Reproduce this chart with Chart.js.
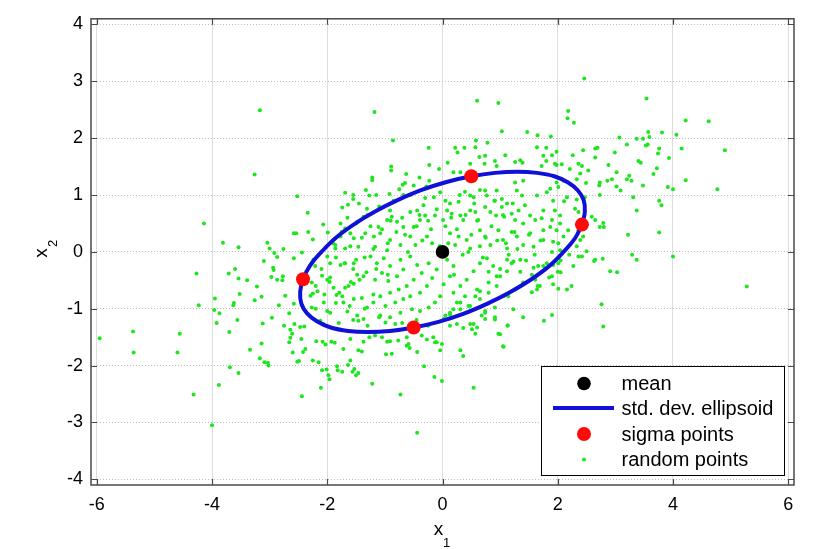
<!DOCTYPE html>
<html>
<head>
<meta charset="utf-8">
<script src="https://cdn.jsdelivr.net/npm/chart.js"></script>
<style>
  html, body { margin: 0; padding: 0; background: #fff; }
  canvas { display: block; }
</style>
</head>
<body>
<canvas id="chart" width="827" height="549"></canvas>
<script>
// Sigma point plot

const xTicks = [-6, -4, -2, 0, 2, 4, 6];
const yTicks = [-4, -3, -2, -1, 0, 1, 2, 3, 4];

const meanPoint = [[0, 0]];
const sigmaPoints = [[0.50, 1.33], [2.42, 0.48], [-2.42, -0.48], [-0.50, -1.33]];

// outline of the ellipse, traced every ~10 degrees
const ellipsePoints = [
    [2.42, 0.48], [2.47, 0.70], [2.45, 0.91], [2.35, 1.08], [2.18, 1.22], [1.94, 1.33],
    [1.64, 1.39], [1.30, 1.41], [0.91, 1.39], [0.50, 1.33], [0.07, 1.23], [-0.36, 1.09],
    [-0.78, 0.91], [-1.17, 0.71], [-1.53, 0.49], [-1.85, 0.25], [-2.10, 0.00], [-2.30, -0.24],
    [-2.42, -0.48], [-2.47, -0.70], [-2.45, -0.91], [-2.35, -1.08], [-2.18, -1.22], [-1.94, -1.33],
    [-1.64, -1.39], [-1.30, -1.41], [-0.91, -1.39], [-0.50, -1.33], [-0.07, -1.23], [0.36, -1.09],
    [0.78, -0.91], [1.17, -0.71], [1.53, -0.49], [1.85, -0.25], [2.10, 0.00], [2.30, 0.24],
    [2.42, 0.48]
];

const randomPoints = [
    [-3.17,2.49],[-1.18,2.46],[-0.86,1.96],[-3.26,1.36],[-2.52,0.98],[-4.14,0.50],[-2.34,0.69],[-0.89,1.50],[-0.89,1.43],[-1.22,1.31],
    [-1.22,1.26],[-1.69,1.04],[-1.55,1.00],[-1.55,0.93],[-1.33,1.09],[-1.27,0.99],[-1.74,0.78],[-1.64,0.83],[-2.07,0.48],[-2.58,0.33],
    [-2.54,0.33],[-2.33,0.35],[-2.25,0.22],[-1.99,0.34],[-3.81,0.16],[-3.54,0.08],[-3.04,0.16],[-3.00,0.06],[-2.92,-0.02],[-2.87,-0.09],
    [-2.76,0.05],[-3.10,-0.16],[-2.58,-0.11],[-2.44,-0.01],[-2.24,-0.14],[-4.27,-0.38],[-3.71,-0.38],[-3.60,-0.30],[-3.54,-0.47],[-3.39,-0.50],
    [-2.97,-0.44],[-2.87,-0.49],[-2.78,-0.50],[-1.86,0.06],[-3.22,-0.61],[-3.14,-0.79],[-3.26,-0.85],[-3.52,-0.74],[-3.62,-0.90],[-3.63,-0.94],
    [-3.95,-0.82],[-4.23,-0.94],[-3.96,-1.02],[-3.87,-1.08],[-3.92,-1.25],[-3.56,-1.20],[-3.70,-1.41],[-3.12,-1.26],[-2.96,-1.16],[-2.84,-0.94],
    [-2.73,-0.77],[-2.77,-0.43],[-2.66,-1.08],[-2.44,-0.94],[-2.58,-0.91],[-2.75,-1.30],[-2.57,-1.27],[-2.47,-1.32],[-2.40,-1.31],[-2.66,-1.59],
    [-2.64,-1.51],[-3.14,-1.61],[-3.34,-1.72],[-3.17,-1.87],[-3.09,-1.94],[-3.03,-1.95],[-3.02,-2.00],[-3.69,-2.03],[-3.54,-2.13],[-3.88,-2.34],
    [-4.32,-2.51],[-4.00,-3.05],[-5.95,-1.52],[-5.37,-1.40],[-5.36,-1.77],[-4.56,-1.44],[-4.60,-1.77],[-2.60,-1.77],[-2.45,-1.53],[-2.38,-1.71],
    [-2.42,-1.76],[-2.52,-1.93],[-2.49,-1.92],[-2.44,-2.54],[-2.19,-1.57],[-2.08,-1.58],[-2.03,-1.63],[-1.93,-1.58],[-1.87,-1.60],[-2.25,-1.91],
    [-2.15,-1.94],[-2.09,-2.08],[-2.01,-2.07],[-1.98,-2.17],[-1.96,-2.24],[-2.11,-2.39],[-1.83,-2.01],[-1.72,-1.71],[-1.60,-1.91],[-1.64,-1.99],
    [-1.46,-1.73],[-1.40,-1.75],[-1.53,-2.06],[-1.50,-2.17],[-1.46,-2.13],[-1.56,-2.11],[-1.82,-2.08],[-1.74,-2.11],[-1.22,-2.32],[-0.98,-1.80],
    [-0.88,-1.79],[-0.73,-2.51],[-0.57,-1.69],[-0.44,-1.76],[-0.44,-3.18],[-1.60,-1.53],[-1.37,-1.58],[-1.27,-1.50],[-1.17,-1.47],[-0.96,-1.58],
    [-0.91,-1.57],[-0.77,-1.56],[-0.62,-1.65],[-2.94,-0.28],[-2.93,-0.32],[-2.64,-1.37],[-2.61,-1.44],[-2.29,-0.77],[-2.25,-0.73],[-2.17,-0.69],
    [-2.09,-0.42],[-2.00,-0.49],[-1.96,-0.53],[-1.89,-0.63],[-1.84,-0.76],[-1.79,-0.72],[-1.74,-0.78],[-1.69,-0.63],[-1.63,-0.60],[-1.59,-0.53],
    [-1.54,-0.56],[-1.48,-0.40],[-1.44,-0.49],[-1.37,-0.43],[-1.32,-0.36],[-1.77,-0.23],[-1.69,-0.20],[-1.54,-0.20],[-1.50,-0.14],[-2.06,-0.89],
    [-2.00,-1.04],[-1.95,-1.07],[-1.72,-0.89],[-1.61,-0.95],[-1.54,-0.83],[-1.48,-1.12],[-1.40,-0.81],[-1.31,-0.98],[-1.37,-1.18],[-1.46,-1.21],
    [-2.12,-1.21],[-2.07,-1.27],[-2.27,-0.98],[-1.95,-0.20],[-2.00,-0.08],[-2.21,-0.25],[-2.27,-0.54],
    [0.60,2.66],[0.97,2.62],[1.03,2.12],[-0.24,1.83],[0.22,1.83],[0.26,1.75],[0.38,1.83],[0.58,1.96],[0.57,1.84],[0.78,1.92],
    [0.64,1.67],[0.74,1.69],[0.91,1.60],[0.94,1.51],[1.09,1.70],[0.73,1.55],[0.48,1.55],[0.31,1.40],[0.19,1.40],[0.09,1.57],
    [-0.06,1.46],[-0.23,1.53],[-0.63,1.37],[-0.40,1.31],[-0.50,1.17],[-0.65,1.21],[-0.69,1.18],[-0.23,1.25],[-0.28,1.15],[0.39,1.06],
    [0.48,0.99],[0.54,0.96],[0.65,1.09],[0.74,1.08],[0.77,0.99],[0.94,1.08],[0.91,0.90],[1.03,0.93],[1.12,0.85],[0.05,0.90],
    [0.13,0.85],[0.28,0.88],[-0.15,0.96],[-0.04,1.05],[-0.33,0.82],[-0.56,0.70],[-0.44,0.73],[-0.91,0.73],[-0.88,0.62],[-0.96,0.56],
    [-0.79,0.53],[-0.68,0.44],[-1.11,0.44],[-1.08,0.33],[-1.19,0.27],[-0.50,0.44],[-0.39,0.56],[-0.30,0.64],[-0.13,0.64],[0.01,0.56],
    [0.08,0.73],[0.16,0.67],[0.31,0.64],[0.36,0.56],[0.48,0.73],[0.57,0.70],[0.62,0.56],[0.74,0.79],[0.83,0.70],[0.93,0.64],
    [1.03,0.79],[1.07,0.62],[-0.91,0.21],[-0.73,0.12],[-0.56,0.27],[-0.47,0.12],[-0.27,0.27],[-0.18,0.15],[0.13,0.33],[0.28,0.27],
    [0.22,0.12],[0.42,0.21],[0.48,0.06],[0.65,0.38],[0.74,0.27],[0.83,0.12],[0.97,0.38],[1.05,0.21],[1.12,0.06],[-0.96,0.03],
    [-1.17,0.09],[-0.92,1.02],[-0.68,1.00],
    [2.46,3.05],[3.54,2.70],[2.18,2.48],[2.17,2.35],[2.28,2.27],[1.47,2.11],[1.65,2.05],[1.88,2.03],[3.07,2.01],[3.20,1.89],
    [3.37,1.99],[3.48,1.99],[3.56,1.89],[3.57,2.11],[1.64,1.84],[1.80,1.83],[1.98,1.76],[2.26,1.70],[2.44,1.79],[2.69,1.83],
    [2.99,1.75],[2.65,1.66],[1.26,1.58],[1.35,1.61],[1.39,1.57],[1.75,1.69],[1.90,1.70],[1.72,1.51],[1.98,1.53],[2.36,1.55],
    [2.42,1.51],[2.53,1.43],[2.21,1.46],[2.39,1.38],[2.88,1.53],[3.02,1.40],[2.86,1.25],[2.94,1.28],[3.20,1.28],[3.28,1.25],
    [3.24,1.34],[3.40,1.60],[3.44,1.57],[2.73,1.22],[2.49,1.21],[3.02,1.15],[3.09,1.08],[2.73,1.00],[3.31,0.96],[3.37,0.73],
    [3.48,1.17],[2.10,1.25],[2.01,1.14],[2.16,0.96],[2.11,0.89],[2.33,0.92],[2.30,0.76],[2.36,0.70],[2.59,0.62],[2.65,0.56],
    [2.79,0.51],[2.73,0.44],[2.80,0.44],[2.36,0.38],[2.44,0.27],[2.39,0.21],[3.22,0.30],[2.01,0.15],[2.04,0.03],[2.33,0.10],
    [1.26,1.22],[1.40,1.25],[1.29,1.08],[1.38,0.99],[1.22,0.85],[1.43,0.82],[1.32,0.73],[1.52,0.64],[1.26,0.56],[1.40,0.50],
    [1.61,0.56],[1.75,0.73],[1.72,0.59],[1.92,0.90],[1.95,0.73],[1.90,0.56],[2.04,0.64],[1.87,0.44],[1.75,0.38],[1.98,0.38],
    [1.52,0.33],[1.29,0.27],[1.40,0.12],[1.58,0.09],[1.75,0.21],[1.92,0.18],[2.10,0.27],[2.18,0.38],[2.04,0.50],[1.81,1.05],
    [1.64,0.99],[1.87,1.11],[1.98,1.22],[1.20,0.67],
    [4.22,2.31],[4.62,2.30],[3.59,2.02],[3.53,1.87],[3.81,2.10],[4.06,2.06],[3.76,1.82],[3.74,1.73],[4.15,1.82],[4.90,1.79],
    [3.93,1.65],[3.72,1.47],[3.66,1.37],[4.22,1.26],[3.91,1.14],[4.00,1.10],[4.77,1.10],[3.76,0.90],[3.80,0.82],[3.76,0.34],
    [4.00,-0.08],[5.28,-0.61],
    [2.07,1.54],[1.95,1.55],[1.80,1.60],[2.33,1.28],[2.72,1.17],[2.47,0.96],[2.65,1.82],[3.37,-0.14],[3.29,-0.05],[2.91,-0.34],
    [3.03,-0.36],[2.78,-0.12],[2.63,-0.16],[2.50,0.01],[2.42,-0.08],[2.27,-0.25],[2.05,-0.36],
    [2.76,-0.92],[2.79,-1.31],[2.24,-0.60],[2.16,-0.66],[2.01,-0.65],[1.90,-0.43],[1.92,-0.57],[1.76,-1.21],[1.90,-1.11],[1.64,-0.66],
    [1.69,-0.60],[1.55,-0.71],[1.61,-0.49],[1.40,-1.15],[1.23,-1.01],[1.13,-1.29],[1.00,-1.45],[1.05,-1.66],[0.91,-1.19],[0.54,-2.39],
    [0.60,-1.33],[0.68,-1.12],[0.74,-1.07],[0.48,-1.27],[0.51,-1.36],[0.31,-1.73],[0.36,-1.83],[-0.04,-1.73],[-0.01,-1.62],[-0.10,-1.59],
    [-0.14,-2.20],[-0.01,-2.27],[-0.32,-2.01],[0.05,-1.12],[0.13,-1.07],[0.19,-1.01],[0.31,-0.89],[0.45,-0.95],[0.57,-0.78],[0.65,-0.69],
    [0.80,-0.54],[0.94,-0.43],[1.12,-0.34],[1.14,-0.78],[1.26,-0.66],[1.40,-0.54],
    [-0.36,-1.47],[-0.27,-1.54],[-0.16,-1.50],[-0.13,-1.59],[-0.62,-1.50],[-0.59,-1.62],[-1.17,-1.41],[-1.05,-1.50],[0.13,-1.30],[0.25,-1.27],
    [0.36,-1.34],[0.54,-1.27],[0.57,-1.44],[0.97,-1.44],[1.06,-1.67],[1.13,-1.30],[0.74,-1.18],[0.91,-1.15],[-0.99,-1.24],[-0.82,-1.27],
    [-1.25,-0.08],[-1.14,-0.20],[-1.02,-0.11],[-0.91,-0.25],[-1.05,-0.37],[-1.17,-0.49],[-0.94,-0.51],[-0.79,-0.43],[-0.68,-0.31],[-0.73,-0.14],
    [-0.56,-0.08],[-0.44,-0.23],[-0.36,-0.37],[-0.50,-0.49],[-0.62,-0.60],[-0.76,-0.66],[-0.91,-0.72],[-1.08,-0.78],[-1.20,-0.89],[-0.99,-0.95],
    [-0.82,-0.89],[-0.68,-0.83],[-0.56,-0.78],[-0.39,-0.72],[-0.27,-0.60],[-0.18,-0.46],[-0.10,-0.31],[-0.24,-0.20],[0.08,-0.14],[0.19,-0.25],
    [0.13,-0.43],[0.02,-0.57],[-0.04,-0.78],[-0.13,-0.89],[-0.24,-0.98],[-0.39,-1.04],[-0.53,-1.01],[-0.73,-1.07],[-0.91,-1.15],[-1.08,-1.12],
    [0.19,-0.72],[0.31,-0.60],[0.42,-0.49],[0.54,-0.34],[0.65,-0.20],[0.77,-0.11],[0.88,-0.25],[1.00,-0.43],[1.12,-0.14],[0.94,-0.60],
    [0.80,-0.72],[0.65,-0.83],[0.48,-0.95],[0.31,-1.01],[0.13,-1.10],[0.02,-1.18],[0.25,-0.89],[0.60,-0.66],[0.39,-0.78],[0.74,-1.04],
    [0.91,-0.98],[1.06,-0.78],
    [-1.90,0.15],[-1.75,0.35],[-1.60,0.10],[-1.50,0.50],[-1.40,0.25],[-1.30,0.65],[-1.20,0.05],[-1.10,0.80],[-1.05,0.40],[-0.95,0.15],
    [-0.85,0.90],[-0.80,0.35],[-0.70,0.60],[-0.60,0.00],[-0.55,1.00],[-0.45,0.45],[-0.35,0.20],[-0.30,0.95],[-0.20,0.40],[-0.10,0.75],
    [-0.05,0.10],[-1.65,0.60],[-1.35,-0.10],[-1.85,-0.10],[-2.10,-0.30],[-1.95,-0.45],[-1.25,0.45],[-0.90,0.55],[-0.65,0.30],[-0.40,0.65],
    [-1.45,0.85],[-1.15,1.00],[-0.75,1.10],[-0.25,0.55],[-1.70,-0.20],[-1.55,-0.30],[-1.15,-0.30],[-0.95,-0.40],[-2.20,-0.60],[-2.05,-0.75],
    [-1.85,-0.90],[-1.65,-1.05],[-1.35,-1.00],[-1.20,-0.75],[-1.10,-1.15],[-1.30,-1.30],[-1.55,-1.20],[-1.80,-1.25],[-2.20,-1.00],[-0.70,-1.25],
    [-0.45,-1.20],[-0.25,-1.30],
    [0.10,0.15],[0.25,0.40],[0.35,-0.05],[0.50,0.30],[0.60,0.55],[0.70,-0.10],[0.85,0.45],[0.95,0.20],[1.05,0.65],[1.15,-0.05],
    [0.20,-0.40],[0.45,0.00],[0.75,0.25],[1.00,-0.30],[0.15,0.60],[0.55,0.85],[0.90,0.90],[1.20,0.35],[0.30,1.00],[0.05,0.45],
    [0.65,0.10],[0.40,0.65],[0.80,-0.35],[1.10,0.15],
    [1.30,0.05],[1.45,-0.15],[1.60,-0.05],[1.75,-0.25],[1.90,0.00],[2.05,-0.15],[1.35,-0.35],[1.55,-0.40],[1.70,0.20],[1.85,-0.45],
    [2.20,-0.05],[1.25,0.35],[1.50,0.30],[2.00,-0.35],[1.40,-0.55],[1.20,-0.20],[1.65,-0.60],
    [-1.31,0.76],[-1.37,0.62],[-1.48,0.53],[-1.77,0.50],[-1.69,0.41],[-1.60,0.33],[-1.54,0.24],[-1.77,0.27],[-1.86,0.12],[-1.69,0.06],
    [-1.46,0.09],[-1.34,0.33],
    [2.36,-0.08],[2.65,-0.14],[1.81,-0.20],[1.92,-0.23],[1.66,-0.25],[1.58,-0.28],[1.35,-0.14],[1.23,-0.17],[2.01,-0.20]
];

const legendLabels = ['mean', 'std. dev. ellipsoid', 'sigma points', 'random points'];

const FONT = '"Liberation Sans", Arial, Helvetica, sans-serif';
const toXY = pts => pts.map(p => ({ x: p[0], y: p[1] }));

// frame, inward ticks, axis titles and boxed legend
const decorPlugin = {
    id: 'decor',
    afterDraw(chart) {
        const ctx = chart.ctx;
        const a = chart.chartArea;
        const xs = chart.scales.x;
        const ys = chart.scales.y;
        ctx.save();

        ctx.strokeStyle = '#4a4a4a';
        ctx.lineWidth = 1.5;
        ctx.strokeRect(a.left, a.top, a.right - a.left, a.bottom - a.top);

        ctx.lineWidth = 1.2;
        ctx.beginPath();
        xTicks.forEach(v => {
            const px = Math.round(xs.getPixelForValue(v)) + 0.5;
            ctx.moveTo(px, a.bottom); ctx.lineTo(px, a.bottom - 6);
            ctx.moveTo(px, a.top); ctx.lineTo(px, a.top + 6);
        });
        yTicks.forEach(v => {
            const py = Math.round(ys.getPixelForValue(v)) + 0.5;
            ctx.moveTo(a.left, py); ctx.lineTo(a.left + 6, py);
            ctx.moveTo(a.right, py); ctx.lineTo(a.right - 6, py);
        });
        ctx.stroke();

        // axis titles with subscripts
        ctx.fillStyle = '#000';
        ctx.textAlign = 'center';
        ctx.textBaseline = 'alphabetic';
        ctx.font = '19px ' + FONT;
        ctx.fillText('x', 438.5, 535);
        ctx.font = '13px ' + FONT;
        ctx.fillText('1', 446.5, 547);

        ctx.save();
        ctx.translate(47, 253);
        ctx.rotate(-Math.PI / 2);
        ctx.font = '19px ' + FONT;
        ctx.fillText('x', 0, 0);
        ctx.font = '13px ' + FONT;
        ctx.fillText('2', 9.5, 10);
        ctx.restore();

        // legend box
        const bx = 541, by = 366, bw = 243, bh = 109;
        ctx.fillStyle = '#fff';
        ctx.fillRect(bx, by, bw, bh);
        ctx.strokeStyle = '#000';
        ctx.lineWidth = 1;
        ctx.strokeRect(bx + 0.5, by + 0.5, bw, bh);

        const rows = [383.5, 408, 434, 459.5];
        const ds = chart.data.datasets;
        const byLabel = l => ds.find(d => d.label === l);
        ctx.textAlign = 'left';
        ctx.textBaseline = 'middle';
        legendLabels.forEach((label, i) => {
            const d = byLabel(label);
            const y = rows[i];
            if (d.showLine) {
                ctx.strokeStyle = d.borderColor;
                ctx.lineWidth = d.borderWidth;
                ctx.beginPath();
                ctx.moveTo(553, y); ctx.lineTo(614, y);
                ctx.stroke();
            } else {
                ctx.fillStyle = d.backgroundColor;
                ctx.beginPath();
                ctx.arc(584, y, d.pointRadius, 0, Math.PI * 2);
                ctx.fill();
            }
            ctx.fillStyle = '#000';
            ctx.font = '20px ' + FONT;
            ctx.fillText(label, 621.5, y + 1);
        });

        ctx.restore();
    }
};

new Chart(document.getElementById('chart'), {
    type: 'scatter',
    data: {
        datasets: [
            {
                label: 'mean',
                data: toXY(meanPoint),
                backgroundColor: '#000000',
                borderWidth: 0,
                pointRadius: 6.8,
                order: 1
            },
            {
                label: 'sigma points',
                data: toXY(sigmaPoints),
                backgroundColor: '#ff0a0a',
                borderWidth: 0,
                pointRadius: 7,
                order: 2
            },
            {
                label: 'std. dev. ellipsoid',
                data: toXY(ellipsePoints),
                showLine: true,
                borderColor: '#1010d8',
                borderWidth: 4,
                pointRadius: 0,
                tension: 0.4,
                fill: false,
                order: 3
            },
            {
                label: 'random points',
                data: toXY(randomPoints),
                backgroundColor: '#1ee61e',
                borderWidth: 0,
                pointRadius: 2,
                order: 4
            }
        ]
    },
    options: {
        responsive: false,
        devicePixelRatio: 1,
        animation: false,
        layout: { padding: { left: 0, right: 33, top: 13, bottom: 0 } },
        plugins: {
            legend: { display: false },
            tooltip: { enabled: false }
        },
        scales: {
            x: {
                type: 'linear',
                min: -6.1,
                max: 6.1,
                afterBuildTicks: s => { s.ticks = xTicks.map(v => ({ value: v })); },
                afterFit: s => { s.height = 64; },
                grid: { color: '#dddddd', lineWidth: 1, drawTicks: false },
                border: { display: false },
                ticks: {
                    padding: 9,
                    color: '#000',
                    font: { family: FONT, size: 18 },
                    maxRotation: 0
                }
            },
            y: {
                type: 'linear',
                min: -4.1,
                max: 4.1,
                afterBuildTicks: s => { s.ticks = yTicks.map(v => ({ value: v })); },
                afterFit: s => { s.width = 91; },
                grid: { color: '#bdbdbd', lineWidth: 1, drawTicks: false },
                border: { display: false, dash: [1, 2] },
                ticks: {
                    padding: 8,
                    color: '#000',
                    font: { family: FONT, size: 18 }
                }
            }
        }
    },
    plugins: [decorPlugin]
});
</script>
</body>
</html>
